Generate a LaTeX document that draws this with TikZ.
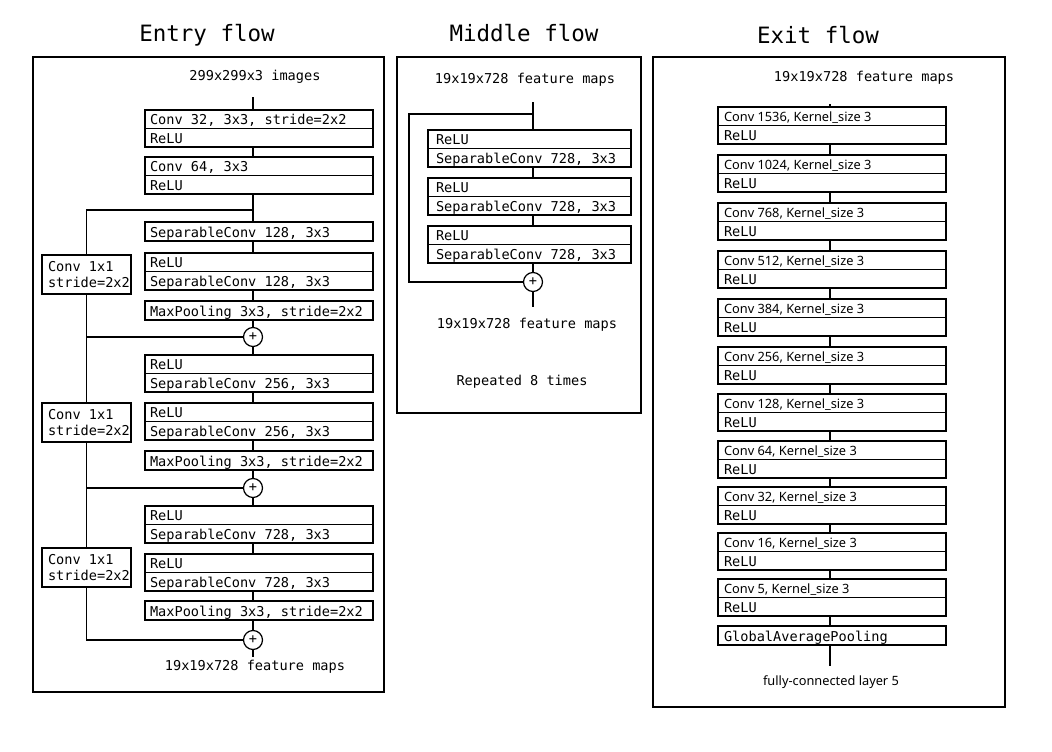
\documentclass[tikz,border=0pt]{standalone}
\usepackage{fontspec}
\usetikzlibrary{positioning}
\newfontfamily\monofam{DejaVu Sans Mono}
\newfontfamily\sansfam{Noto Sans}
\newcommand\boxfont{\monofam\fontsize{13.6}{16}\selectfont}
\newcommand\titlefont{\monofam\fontsize{22.5}{26}\selectfont}
\newcommand\exitfont{\sansfam\fontsize{12.8}{15}\selectfont}

\begin{document}
\begin{tikzpicture}[x=1pt, y=-1pt,
    frame/.style={draw, line width=1.3pt},
    row/.style={draw, line width=1.2pt, outer sep=0pt, anchor=north west, inner xsep=5pt, inner ysep=0pt,
        text width=218pt, align=flush left, minimum height=18.5pt, text height=12pt, text depth=1pt, font=\boxfont},
    mrow/.style={row, inner xsep=8pt, text width=187pt},
    erow/.style={row, line width=1.8pt, inner xsep=6pt, text width=216pt},
    skipbox/.style={draw, line width=1.2pt, outer sep=0pt, anchor=north west, inner xsep=6pt, inner ysep=0pt,
        text width=77pt, align=flush left, minimum height=39pt, font=\boxfont},
    plus/.style={draw, circle, line width=1.2pt, minimum size=19pt, inner sep=0pt, font=\boxfont},
    lbl/.style={font=\boxfont},
    ttl/.style={font=\titlefont},
    conn/.style={line width=1.2pt}
]
    \useasboundingbox (0,0) rectangle (1052,752);

    % Entry flow
    \node[ttl] (t1) at (207,35) {Entry flow};
    \draw[frame] (33,57) rectangle (384,692);
    \coordinate (ax) at (253,0);
    \node[lbl] (inp) at (255,77) {299x299x3 images};
    \coordinate (inp1) at (253,97);
    \node[row] (b1a) at (145,110) {Conv 32, 3x3, stride=2x2};
    \node[row, below=0pt of b1a] (b1b) {ReLU};
    \node[row] (b2a) at (145,157) {Conv 64, 3x3};
    \node[row, below=0pt of b2a] (b2b) {ReLU};
    \node[row, minimum height=19pt] (b3) at (145,222) {SeparableConv 128, 3x3};
    \node[row] (b4a) at (145,253) {ReLU};
    \node[row, below=0pt of b4a] (b4b) {SeparableConv 128, 3x3};
    \node[row, minimum height=19pt] (b5) at (145,301) {MaxPooling 3x3, stride=2x2};
    \node[plus] (p1) at (253,337) {+};
    \node[row] (b6a) at (145,355) {ReLU};
    \node[row, below=0pt of b6a] (b6b) {SeparableConv 256, 3x3};
    \node[row] (b7a) at (145,403) {ReLU};
    \node[row, below=0pt of b7a] (b7b) {SeparableConv 256, 3x3};
    \node[row, minimum height=19pt] (b8) at (145,451) {MaxPooling 3x3, stride=2x2};
    \node[plus] (p2) at (253,488) {+};
    \node[row] (b9a) at (145,506) {ReLU};
    \node[row, below=0pt of b9a] (b9b) {SeparableConv 728, 3x3};
    \node[row] (b10a) at (145,554) {ReLU};
    \node[row, below=0pt of b10a] (b10b) {SeparableConv 728, 3x3};
    \node[row, minimum height=19pt] (b11) at (145,601) {MaxPooling 3x3, stride=2x2};
    \node[plus] (p3) at (253,640) {+};
    \coordinate (out1) at (253,657);
    \node[lbl] (outl) at (255,667) {19x19x728 feature maps};
    \node[skipbox] (c1) at (42,255) {Conv 1x1\\stride=2x2};
    \node[skipbox] (c2) at (42,403) {Conv 1x1\\stride=2x2};
    \node[skipbox] (c3) at (42,548) {Conv 1x1\\stride=2x2};
    \coordinate (br1) at (253,210);

    \draw[conn] (inp1) -- (b1a.north -| inp1);
    \draw[conn] (b1b.south -| ax) -- (b2a.north -| ax);
    \draw[conn] (b2b.south -| ax) -- (b3.north -| ax);
    \draw[conn] (b3.south -| ax) -- (b4a.north -| ax);
    \draw[conn] (b4b.south -| ax) -- (b5.north -| ax);
    \draw[conn] (b5.south -| ax) -- (p1.north);
    \draw[conn] (p1.south) -- (b6a.north -| ax);
    \draw[conn] (b6b.south -| ax) -- (b7a.north -| ax);
    \draw[conn] (b7b.south -| ax) -- (b8.north -| ax);
    \draw[conn] (b8.south -| ax) -- (p2.north);
    \draw[conn] (p2.south) -- (b9a.north -| ax);
    \draw[conn] (b9b.south -| ax) -- (b10a.north -| ax);
    \draw[conn] (b10b.south -| ax) -- (b11.north -| ax);
    \draw[conn] (b11.south -| ax) -- (p3.north);
    \draw[conn] (p3.south) -- (out1);
    \draw[conn] (br1) -| (c1.north);
    \draw[conn] (c1.south) -- (c2.north);
    \draw[conn] (c1.south) |- (p1.west);
    \draw[conn] (c2.south) -- (c3.north);
    \draw[conn] (c2.south) |- (p2.west);
    \draw[conn] (c3.south) |- (p3.west);

    % Middle flow
    \node[ttl] (t2) at (524,33) {Middle flow};
    \draw[frame] (397,57) rectangle (641,413);
    \node[lbl] (min) at (525,80) {19x19x728 feature maps};
    \coordinate (mx) at (533,102);
    \coordinate (mbr) at (533,114);
    \coordinate (mleft) at (409,114);
    \node[mrow] (m1a) at (428,130) {ReLU};
    \node[mrow, below=0pt of m1a] (m1b) {SeparableConv 728, 3x3};
    \node[mrow] (m2a) at (428,178) {ReLU};
    \node[mrow, below=0pt of m2a] (m2b) {SeparableConv 728, 3x3};
    \node[mrow] (m3a) at (428,226) {ReLU};
    \node[mrow, below=0pt of m3a] (m3b) {SeparableConv 728, 3x3};
    \node[plus] (mp) at (533,282) {+};
    \coordinate (mout) at (533,307);
    \node[lbl] (moutl) at (527,325) {19x19x728 feature maps};
    \node[lbl] (rep) at (522,382) {Repeated 8 times};

    \draw[conn] (mx) -- (m1a.north -| mx);
    \draw[conn] (m1b.south -| mx) -- (m2a.north -| mx);
    \draw[conn] (m2b.south -| mx) -- (m3a.north -| mx);
    \draw[conn] (m3b.south -| mx) -- (mp.north);
    \draw[conn] (mp.south) -- (mout);
    \draw[conn] (mbr) -- (mleft) |- (mp.west);

    % Exit flow
    \node[ttl] (t3) at (818,35) {Exit flow};
    \draw[frame] (653,57) rectangle (1005,707);
    \node[lbl] (ein) at (864,78) {19x19x728 feature maps};
    \coordinate (ex) at (830,104);
    \foreach \n/\ty [count=\i] in {1536/107, 1024/155, 768/203, 512/251, 384/299, 256/347,
                                   128/394, 64/441, 32/487, 16/533, 5/579} {
        \node[erow, font=\exitfont] (ea\i) at (718,\ty) {Conv \n, Kernel\_size 3};
        \node[erow, below=0pt of ea\i] (eb\i) {ReLU};
    }
    \node[erow, minimum height=19pt] (gap) at (718,626) {GlobalAveragePooling};
    \coordinate (eout) at (830,666);
    \node[font=\exitfont] (fc) at (831,682) {fully-connected layer 5};

    \draw[conn] (ex) -- (ea1.north -| ex);
    \foreach \i [count=\j from 2] in {1,...,10}
        \draw[conn] (eb\i.south -| ex) -- (ea\j.north -| ex);
    \draw[conn] (eb11.south -| ex) -- (gap.north -| ex);
    \draw[conn] (gap.south -| ex) -- (eout);
\end{tikzpicture}
\end{document}
